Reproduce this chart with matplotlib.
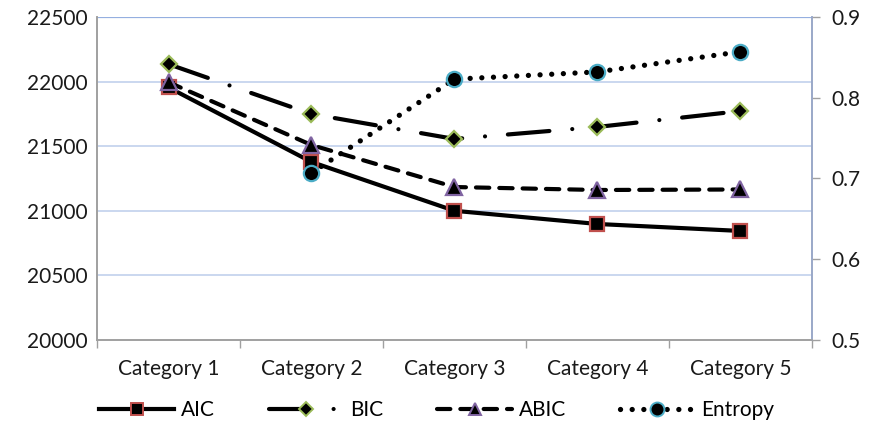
import numpy as np
import matplotlib
matplotlib.use("Agg")
import matplotlib.pyplot as plt
from matplotlib.lines import Line2D

plt.rcParams['font.family'] = ['Lato', 'DejaVu Sans']

categories = ["Category 1", "Category 2", "Category 3", "Category 4", "Category 5"]
aic = [21955, 21378, 21000, 20898, 20844]
bic = [22135, 21749, 21556, 21649, 21772]
abic = [21995, 21509, 21184, 21161, 21165]
entropy = [np.nan, 0.707, 0.823, 0.832, 0.857]

left_ticks = [20000, 20500, 21000, 21500, 22000, 22500]
right_ticks = [0.5, 0.6, 0.7, 0.8, 0.9]

fig = plt.figure(figsize=(8.7, 4.28), dpi=100)
ax = fig.add_axes([0.1115, 0.2056, 0.8218, 0.7547])
ax2 = ax.twinx()

x = np.arange(len(categories))
lw = 3.0
ms = 10
fs = 15

ax.plot(x, aic, color='black', lw=lw, marker='s', ms=ms, mfc='black',
        mec='#c0504d', mew=1.6, solid_capstyle='round', zorder=4)
ax.plot(x, bic, color='black', lw=lw, marker='D', ms=8.5, mfc='black',
        mec='#9bbb59', mew=1.6, dashes=(10, 5.5, 0.01, 5.5),
        dash_capstyle='round', zorder=4)
ax.plot(x, abic, color='black', lw=lw, marker='^', ms=11, mfc='black',
        mec='#8064a2', mew=1.6, dashes=(3.2, 2.4), dash_capstyle='round', zorder=4)
ax2.plot(x, entropy, color='black', lw=3.8, marker='o', ms=11, mfc='black',
         mec='#4bacc6', mew=1.6, dashes=(0.01, 2.2), dash_capstyle='round', zorder=4)

ax.set_xlim(-0.5, len(categories) - 0.5)
ax.set_ylim(20000, 22500)
ax2.set_ylim(0.5, 0.9)

ax.set_yticks(left_ticks)
ax.set_yticklabels([str(v) for v in left_ticks])
ax2.set_yticks(right_ticks)
ax2.set_yticklabels([f"{v:.1f}" for v in right_ticks])

ax.set_xticks(x)
ax.set_xticklabels(categories)
ax.set_xticks(np.arange(-0.5, len(categories)), minor=True)
ax.tick_params(axis='x', which='major', length=0, pad=14, labelsize=fs, colors='#1a1a1a')
ax.tick_params(axis='x', which='minor', length=6, width=1, color='#a0a0a0')
ax.tick_params(axis='y', length=0, pad=7, labelsize=fs, colors='#1a1a1a')
ax2.tick_params(axis='y', length=6, width=1, pad=8, labelsize=fs,
                colors='#a0a0a0', labelcolor='#1a1a1a')

for v in left_ticks[1:-1]:
    ax.axhline(v, color='#c6d4ee', lw=1.3, zorder=1)
ax.axhline(22500, color='#95afe0', lw=1.6, zorder=1)

for a in (ax, ax2):
    a.spines['top'].set_visible(False)
    a.spines['left'].set_color('#a0a0a0')
    a.spines['bottom'].set_color('#a0a0a0')
    a.spines['right'].set_color('#9aa8c8')
    for s in a.spines.values():
        s.set_linewidth(1.2)
ax.set_zorder(ax2.get_zorder() - 1)
ax2.patch.set_visible(False)

handles = [
    Line2D([], [], color='black', lw=lw, marker='s', ms=9, mfc='black', mec='#c0504d', mew=1.4),
    Line2D([], [], color='black', lw=lw, marker='D', ms=7, mfc='black', mec='#9bbb59', mew=1.4,
           dashes=(10, 5.5, 0.01, 5.5), dash_capstyle='round'),
    Line2D([], [], color='black', lw=lw, marker='^', ms=9, mfc='black', mec='#8064a2', mew=1.4,
           dashes=(3.2, 2.4), dash_capstyle='round'),
    Line2D([], [], color='black', lw=3.8, marker='o', ms=10, mfc='black', mec='#4bacc6', mew=1.4,
           dashes=(0.01, 2.2), dash_capstyle='round'),
]
labels = ["AIC", "BIC", "ABIC", "Entropy"]
fig.legend(handles, labels, loc='center', bbox_to_anchor=(0.502, 0.042), ncol=4,
           frameon=False, fontsize=fs, handlelength=3.6, handletextpad=0.3,
           columnspacing=2.6)

fig.savefig("out.png", dpi=100)
